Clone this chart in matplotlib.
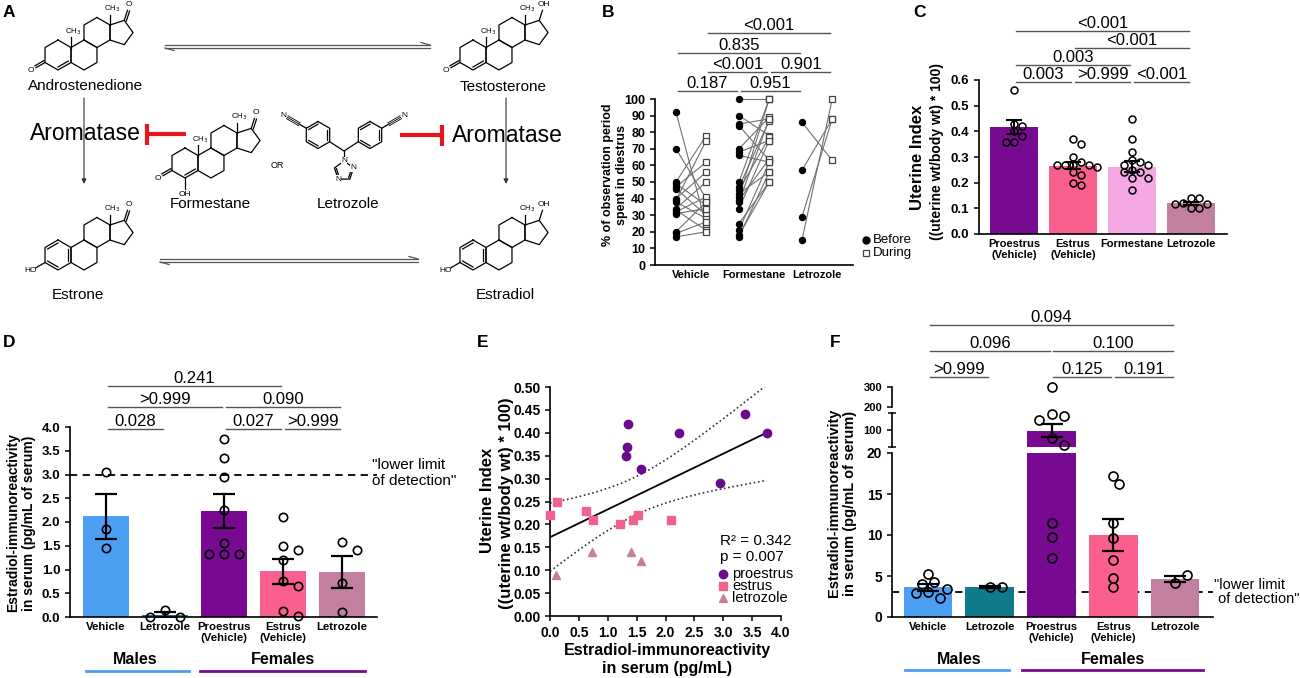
import numpy as np
import matplotlib
matplotlib.use("Agg")
import matplotlib.pyplot as plt
from matplotlib.ticker import FormatStrFormatter
from matplotlib.transforms import blended_transform_factory

plt.rcParams['font.family'] = ['Liberation Sans', 'DejaVu Sans']

W, H = 1300, 678

PURPLE = '#770A90'
PINK = '#FB5F8D'
LPINK = '#F4A9E5'
MAUVE = '#C27F9F'
BLUE = '#4C9FF2'
TEAL = '#0E7B8B'

# ---------------- data ----------------
# B: % of observation period spent in diestrus (paired before / during)
b_labels = ['Vehicle', 'Formestane', 'Letrozole']
veh_before = [92, 70, 50, 49, 47, 46, 40, 39, 38, 34, 33, 32, 31, 20, 19, 17]
veh_during = [24, 40, 78, 36, 62, 30, 56, 75, 28, 50, 21, 41, 34, 38, 26, 20]
form_before = [100, 90, 85, 84, 70, 68, 66, 50, 47, 45, 43, 41, 39, 38, 34, 25, 21, 18, 17]
form_during = [100, 78, 88, 63, 89, 75, 62, 100, 87, 77, 56, 100, 64, 88, 75, 50, 62, 50, 56]
let_before = [86, 57, 29, 15]
let_during = [63, 88, 88, 100]

# C: uterine index
c_labels = ['Proestrus\n(Vehicle)', 'Estrus\n(Vehicle)', 'Formestane', 'Letrozole']
c_mean = [0.417, 0.266, 0.262, 0.119]
c_sem = [0.028, 0.013, 0.022, 0.007]
c_pro = [0.56, 0.43, 0.42, 0.40, 0.38, 0.36, 0.36]
c_est = [0.37, 0.35, 0.30, 0.28, 0.27, 0.27, 0.27, 0.27, 0.26, 0.24, 0.23, 0.20, 0.19]
c_form = [0.45, 0.37, 0.32, 0.29, 0.28, 0.27, 0.27, 0.25, 0.24, 0.24, 0.22, 0.22, 0.17]
c_let = [0.14, 0.14, 0.12, 0.115, 0.115, 0.10, 0.10]

# D: estradiol (pg/mL), groups shared with F
d_labels = ['Vehicle', 'Letrozole', 'Proestrus\n(Vehicle)', 'Estrus\n(Vehicle)', 'Letrozole']
d_mean = [2.12, 0.05, 2.23, 0.96, 0.95]
d_sem = [0.47, 0.05, 0.35, 0.26, 0.34]
d_veh = [3.05, 1.85, 1.45]
d_mlet = [0.15, 0.0, 0.0]
d_pro = [3.75, 3.35, 2.95, 2.25, 1.55, 1.33, 1.33, 1.33]
d_est = [2.10, 1.50, 1.42, 1.20, 0.75, 0.65, 0.12, 0.02]
d_flet = [1.57, 1.42, 0.72, 0.10]

# E: uterine index vs estradiol
e_pro_x = [1.35, 1.33, 1.32, 1.58, 2.23, 2.95, 3.37, 3.75]
e_pro_y = [0.42, 0.37, 0.35, 0.32, 0.40, 0.29, 0.44, 0.40]
e_est_x = [0.00, 0.12, 0.62, 0.75, 1.22, 1.43, 1.52, 2.10]
e_est_y = [0.22, 0.25, 0.23, 0.21, 0.20, 0.21, 0.22, 0.21]
e_let_x = [0.10, 0.72, 1.40, 1.58]
e_let_y = [0.09, 0.14, 0.14, 0.12]

# F: estradiol (pg/mL), second assay
f_mean = [3.6, 3.65, 97, 10.0, 4.65]
f_sem = [0.38, 0.1, 30, 2.0, 0.35]
f_veh = [5.3, 4.3, 4.0, 3.4, 3.0, 2.9, 2.3]
f_mlet = [3.6, 3.7]
f_pro = [300, 175, 166, 147, 62, 29, 11.5, 9.8, 7.2]
f_est = [17.2, 16.2, 11.5, 9.6, 7.0, 4.8, 3.7]
f_flet = [4.2, 5.1]

# ---------------- helpers ----------------
fig = plt.figure(figsize=(13, 6.78), dpi=100)
ov = fig.add_axes([0, 0, 1, 1])
ov.set_xlim(0, W)
ov.set_ylim(H, 0)
ov.set_autoscale_on(False)
ov.axis('off')
ov.set_zorder(10)


def px_ax(x0, y0, x1, y1):
    return fig.add_axes([x0 / W, 1 - y1 / H, (x1 - x0) / W, (y1 - y0) / H])


def style(ax, fs=9):
    for s in ('top', 'right'):
        ax.spines[s].set_visible(False)
    for s in ('left', 'bottom'):
        ax.spines[s].set_linewidth(1.2)
    ax.tick_params(length=3.5, width=1.1, labelsize=fs)
    for t in ax.get_xticklabels() + ax.get_yticklabels():
        t.set_fontweight('bold')


def sig(ax, x1, x2, ypx, label, gap=0.03):
    tr = blended_transform_factory(ax.transData, ov.transData)
    ov.plot([x1 + gap, x2 - gap], [ypx, ypx], color='#555555', lw=1.0,
            transform=tr, clip_on=False)
    ov.text((x1 + x2) / 2, ypx - 3, label, transform=tr, ha='center',
            va='baseline', fontsize=12)


def swarm(vals, dx, dy):
    placed, offs = [], []
    for v in vals:
        k = 0
        while True:
            o = ((k + 1) // 2) * (1 if k % 2 else -1) * dx / 2
            if all(((o - po) / dx) ** 2 + ((v - pv) / dy) ** 2 >= 0.999
                   for po, pv in placed):
                break
            k += 1
        placed.append((o, v))
        offs.append(o)
    return np.array(offs)


def group_lines(ax, ypx_text, ypx_line, m_range, f_range):
    tr = blended_transform_factory(ax.transData, ov.transData)
    ov.plot(m_range, [ypx_line] * 2, color=BLUE, lw=2, transform=tr, clip_on=False)
    ov.plot(f_range, [ypx_line] * 2, color=PURPLE, lw=2, transform=tr, clip_on=False)
    ov.text(0.5, ypx_text, 'Males', transform=tr, ha='center', va='center',
            fontsize=11.5, fontweight='bold')
    ov.text(3.0, ypx_text, 'Females', transform=tr, ha='center', va='center',
            fontsize=11.5, fontweight='bold')


# ---------------- panel A (schematic) ----------------
def ring(p, lw=0.9):
    ov.plot(list(p[:, 0]) + [p[0, 0]], list(p[:, 1]) + [p[0, 1]], color='k', lw=lw)


def inner(p, q, c, f=0.2):
    a = p + (c - p) * f
    b = q + (c - q) * f
    ov.plot([a[0], b[0]], [a[1], b[1]], color='k', lw=0.9)


def hexagon(cx, cy, s, start=90):
    a = np.deg2rad(start + 60 * np.arange(6))
    return np.column_stack([cx + s * np.cos(a), cy - s * np.sin(a)])


def substituent(p, d, s, label, double=False, ha='center'):
    end = p + d * 0.7 * s
    ov.plot([p[0], end[0]], [p[1], end[1]], color='k', lw=0.9)
    if double:
        n = np.array([-d[1], d[0]]) * 2.2
        ov.plot([p[0] + n[0], end[0] + n[0]], [p[1] + n[1], end[1] + n[1]], color='k', lw=0.9)
    t = end + d * 0.4 * s
    ov.text(t[0], t[1], label, fontsize=6, ha=ha, va='center')


def steroid(x0, y0, s, c3, c17, arom=False, c4oh=False):
    r3 = np.sqrt(3)
    A = hexagon(x0, y0, s)
    B = hexagon(x0 + r3 * s, y0, s)
    C = hexagon(x0 + 1.5 * r3 * s, y0 - 1.5 * s, s)
    ex, ey = C[5, 0], C[5, 1] + s / 2
    pc = ex + s / (2 * np.tan(np.pi / 5))
    R = s / (2 * np.sin(np.pi / 5))
    a = np.deg2rad([144, 72, 0, -72, -144])
    D = np.column_stack([pc + R * np.cos(a), ey - R * np.sin(a)])
    for r in (A, B, C, D):
        ring(r)
    cA = A.mean(axis=0)
    if arom:
        for i, j in [(0, 1), (2, 3), (4, 5)]:
            inner(A[i], A[j], cA)
    else:
        inner(A[3], A[4], cA)
        p = A[5]
        ov.plot([p[0], p[0]], [p[1], p[1] - 0.7 * s], color='k', lw=0.9)
        ov.text(p[0] + 2, p[1] - 0.7 * s, 'CH$_3$', fontsize=5.5, ha='center', va='bottom')
    p = C[5]
    ov.plot([p[0], p[0]], [p[1], p[1] - 0.7 * s], color='k', lw=0.9)
    ov.text(p[0] + 2, p[1] - 0.7 * s, 'CH$_3$', fontsize=5.5, ha='center', va='bottom')
    d17 = D[1] - np.array([pc, ey])
    d17 /= np.linalg.norm(d17)
    substituent(D[1], d17, s, c17, double=(c17 == 'O'))
    d3 = (A[2] - cA) / s
    substituent(A[2], d3, s, c3, double=(c3 == 'O'))
    if c4oh:
        substituent(A[3], np.array([0.0, 1.0]), s, 'OH')


steroid(58, 55, 15, 'O', 'O')
steroid(473, 55, 15, 'O', 'OH')
steroid(58, 255, 15, 'HO', 'O', arom=True)
steroid(473, 255, 15, 'HO', 'OH', arom=True)
steroid(185, 163, 15, 'O', 'O', c4oh=True)

# letrozole
L1 = hexagon(318, 135, 13.5)
L2 = hexagon(370, 135, 13.5)
for Lr in (L1, L2):
    ring(Lr)
    cL = Lr.mean(axis=0)
    for i, j in [(0, 1), (2, 3), (4, 5)]:
        inner(Lr[i], Lr[j], cL)
for p, d in [(L1[1], np.array([-0.866, -0.5])), (L2[5], np.array([0.866, -0.5]))]:
    end = p + d * 22
    n = np.array([-d[1], d[0]]) * 1.6
    for k in (-1, 0, 1):
        ov.plot([p[0] + d[0] * 8 + k * n[0], end[0] + k * n[0]],
                [p[1] + d[1] * 8 + k * n[1], end[1] + k * n[1]], color='k', lw=0.6)
    ov.plot([p[0], p[0] + d[0] * 8], [p[1], p[1] + d[1] * 8], color='k', lw=0.9)
    t = end + d * 4
    ov.text(t[0], t[1], 'N', fontsize=6, ha='center', va='center')
cc = np.array([344.0, 151.0])
ov.plot([L1[4, 0], cc[0], L2[2, 0]], [L1[4, 1], cc[1], L2[2, 1]], color='k', lw=0.9)
Rt = 10
ta = np.deg2rad([90, 162, 234, 306, 18])
T = np.column_stack([344 + Rt * np.cos(ta), 161 + Rt - Rt * np.sin(ta)])
ring(T)
inner(T[1], T[2], T.mean(axis=0))
inner(T[3], T[4], T.mean(axis=0))
ov.plot([cc[0], T[0, 0]], [cc[1], T[0, 1]], color='k', lw=0.9)
for i in (0, 2, 4):
    ov.text(T[i, 0], T[i, 1], 'N', fontsize=6, ha='center', va='center',
            bbox=dict(facecolor='white', edgecolor='none', pad=0.2))

# reaction arrows
for y, xa, xb in [(45, 165, 430), (259, 160, 418)]:
    ov.plot([xa, xb], [y, y], color='#555555', lw=0.9)
    ov.plot([xb, xb - 9], [y, y - 2.5], color='#555555', lw=0.9)
    ov.plot([xa, xb], [y + 3, y + 3], color='#555555', lw=0.9)
    ov.plot([xa, xa + 9], [y + 3, y + 5.5], color='#555555', lw=0.9)
for x in (84, 506):
    ov.annotate('', xy=(x, 184), xytext=(x, 98),
                arrowprops=dict(arrowstyle='-|>', color='#333333', lw=0.8,
                                mutation_scale=7, shrinkA=0, shrinkB=0))

ov.text(85, 133, 'Aromatase', fontsize=16.5, ha='center', va='center')
ov.text(452, 135, 'Aromatase', fontsize=16.5, ha='left', va='center')
RED = '#E8141C'
ov.plot([186, 147], [134, 134], color=RED, lw=3, solid_capstyle='butt')
ov.plot([147, 147], [124, 145], color=RED, lw=3, solid_capstyle='butt')
ov.plot([400, 442], [135, 135], color=RED, lw=3, solid_capstyle='butt')
ov.plot([442, 442], [125, 146], color=RED, lw=3, solid_capstyle='butt')

ov.text(86, 86, 'Androstenedione', fontsize=11, ha='center', va='center')
ov.text(503, 87, 'Testosterone', fontsize=11, ha='center', va='center')
ov.text(78, 295, 'Estrone', fontsize=11, ha='center', va='center')
ov.text(505, 295, 'Estradiol', fontsize=11, ha='center', va='center')
ov.text(210, 204, 'Formestane', fontsize=11, ha='center', va='center')
ov.text(348, 204, 'Letrozole', fontsize=11, ha='center', va='center')
ov.text(277, 165, 'OR', fontsize=6.5, ha='center', va='center')

# panel letters
for lbl, x, y in [('A', 3, 17), ('B', 602, 17), ('C', 913, 17),
                  ('D', 3, 347), ('E', 477, 347), ('F', 830, 347)]:
    ov.text(x, y, lbl, fontsize=12.5, fontweight='bold', ha='left', va='baseline')

# ---------------- panel B ----------------
axB = px_ax(655, 99, 853, 265)
pairs = [(veh_before, veh_during), (form_before, form_during), (let_before, let_during)]
for g, (bef, dur) in enumerate(pairs):
    for b, d in zip(bef, dur):
        axB.plot([g, g + 0.48], [b, d], color='#707070', lw=0.8, zorder=1, clip_on=False)
    axB.plot([g] * len(bef), bef, 'o', color='black', ms=4.3, zorder=3, clip_on=False)
    axB.plot([g + 0.48] * len(dur), dur, 's', mfc='white', mec='#444444', mew=0.9,
             ms=4.6, zorder=3, clip_on=False)
axB.set_xlim(-0.333, 2.81)
axB.set_ylim(0, 100)
axB.set_yticks(range(0, 101, 10))
axB.set_xticks([0.24, 1.24, 2.24])
axB.set_xticklabels(b_labels)
style(axB, 9)
axB.tick_params(axis='x', length=0, labelsize=8)
ov.text(615, 175, '% of observation period\nspent in diestrus', rotation=90,
        ha='center', va='center', fontsize=9, fontweight='bold', linespacing=1.15)
ov.plot([866], [240], 'o', color='black', ms=5)
ov.text(873, 240, 'Before', fontsize=9.5, va='center')
ov.plot([866], [253], 's', mfc='white', mec='#444444', mew=0.9, ms=5)
ov.text(873, 253, 'During', fontsize=9.5, va='center')
sig(axB, 0, 1, 91, '0.187')
sig(axB, 1, 2, 91, '0.951')
sig(axB, 0.48, 1.48, 72, '<0.001')
sig(axB, 1.48, 2.48, 72, '0.901')
sig(axB, 0, 2, 53, '0.835')
sig(axB, 0.48, 2.48, 33, '<0.001')

# ---------------- panel C ----------------
axC = px_ax(979, 80, 1227, 234)
xs = np.arange(4)
axC.bar(xs, c_mean, width=0.81, color=[PURPLE, PINK, LPINK, MAUVE], zorder=1, lw=0)
axC.errorbar(xs, c_mean, yerr=c_sem, fmt='none', ecolor='black', elinewidth=1.5,
             capsize=6, capthick=1.5, zorder=3)
for i, pts in enumerate([c_pro, c_est, c_form, c_let]):
    o = swarm(np.array(pts) * 256.7, 0.135, 7.5)
    axC.plot(i + o, pts, 'o', mfc='none', mec='black', mew=1.1, ms=5, zorder=4, clip_on=False)
axC.set_xlim(-0.593, 3.61)
axC.set_ylim(0, 0.6)
axC.set_yticks(np.arange(0, 0.61, 0.1))
axC.yaxis.set_major_formatter(FormatStrFormatter('%.1f'))
axC.set_xticks(xs)
axC.set_xticklabels(c_labels)
style(axC, 9.5)
axC.tick_params(axis='x', length=0, labelsize=8)
ov.text(918, 157, 'Uterine Index', rotation=90, ha='center', va='center',
        fontsize=12, fontweight='bold')
ov.text(937, 152, '((uterine wt/body wt) * 100)', rotation=90, ha='center',
        va='center', fontsize=10, fontweight='bold')
sig(axC, 0, 1, 82, '0.003')
sig(axC, 1, 2, 82, '>0.999')
sig(axC, 2, 3, 82, '<0.001')
sig(axC, 0, 2, 65, '0.003')
sig(axC, 1, 3, 48, '<0.001')
sig(axC, 0, 3, 31, '<0.001')

# ---------------- panel D ----------------
axD = px_ax(70, 427, 377, 617)
xs = np.arange(5)
axD.bar(xs, d_mean, width=0.78, color=[BLUE, TEAL, PURPLE, PINK, MAUVE], zorder=1, lw=0)
axD.errorbar(xs, d_mean, yerr=d_sem, fmt='none', ecolor='black', elinewidth=1.6,
             capsize=8, capthick=1.6, zorder=3)
for i, pts in enumerate([d_veh, d_mlet, d_pro, d_est, d_flet]):
    o = swarm(np.array(pts) * 47.6, 0.25, 8.5)
    axD.plot(i + o, pts, 'o', mfc='none', mec='black', mew=1.2, ms=6, zorder=4, clip_on=False)
axD.axhline(3.0, color='black', lw=1.3, dashes=(4, 3), zorder=2, clip_on=False)
axD.set_xlim(-0.61, 4.59)
axD.set_ylim(0, 4)
axD.set_yticks(np.arange(0, 4.01, 0.5))
axD.yaxis.set_major_formatter(FormatStrFormatter('%.1f'))
axD.set_xticks(xs)
axD.set_xticklabels(d_labels)
style(axD, 9.5)
axD.tick_params(axis='x', length=0, labelsize=8.2)
ov.text(21, 523, 'Estradiol-immunoreactivity\nin serum (pg/mL of serum)', rotation=90,
        ha='center', va='center', fontsize=10, fontweight='bold', linespacing=1.15)
ov.text(372, 473, '"lower limit\nof detection"', fontsize=11, ha='left', va='center',
        linespacing=1.25)
group_lines(axD, 660, 671, [-0.34, 1.41], [1.59, 4.39])
sig(axD, 0, 1, 429, '0.028')
sig(axD, 2, 3, 429, '0.027')
sig(axD, 3, 4, 429, '>0.999')
sig(axD, 0, 2, 407, '>0.999')
sig(axD, 2, 4, 407, '0.090')
sig(axD, 0, 3, 386, '0.241')

# ---------------- panel E ----------------
axE = px_ax(550, 387, 781, 616)
ex_all = np.array(e_pro_x + e_est_x + e_let_x)
ey_all = np.array(e_pro_y + e_est_y + e_let_y)
slope, icpt = np.polyfit(ex_all, ey_all, 1)
n = len(ex_all)
resid = ey_all - (slope * ex_all + icpt)
s_err = np.sqrt(np.sum(resid ** 2) / (n - 2))
xx = np.linspace(0, ex_all.max(), 200)
band = 2.101 * s_err * np.sqrt(1 / n + (xx - ex_all.mean()) ** 2 /
                              np.sum((ex_all - ex_all.mean()) ** 2))
fit = slope * xx + icpt
axE.plot(xx, fit, color='black', lw=1.3, zorder=2)
axE.plot(xx, fit + band, color='#333333', lw=1.2, ls=(0, (1, 1.6)), zorder=2)
axE.plot(xx, fit - band, color='#333333', lw=1.2, ls=(0, (1, 1.6)), zorder=2)
E_PRO, E_EST, E_LET = '#6B0B8C', '#F2618E', '#C47F9E'
axE.plot(e_pro_x, e_pro_y, 'o', color=E_PRO, ms=6, zorder=3, clip_on=False)
axE.plot(e_est_x, e_est_y, 's', color=E_EST, ms=5.5, zorder=3, clip_on=False)
axE.plot(e_let_x, e_let_y, '^', color=E_LET, ms=6, zorder=3, clip_on=False)
axE.set_xlim(0, 4)
axE.set_ylim(0, 0.5)
axE.set_xticks(np.arange(0, 4.01, 0.5))
axE.set_yticks(np.arange(0, 0.501, 0.05))
axE.xaxis.set_major_formatter(FormatStrFormatter('%.1f'))
axE.yaxis.set_major_formatter(FormatStrFormatter('%.2f'))
style(axE, 10)
ov.text(488, 500, 'Uterine Index', rotation=90, ha='center', va='center',
        fontsize=12, fontweight='bold')
ov.text(506, 503, '((uterine wt/body wt) * 100)', rotation=90, ha='center',
        va='center', fontsize=12, fontweight='bold')
ov.text(667, 660, 'Estradiol-immunoreactivity\nin serum (pg/mL)', ha='center',
        va='center', fontsize=11.5, fontweight='bold', linespacing=1.25)
ov.text(720, 541, 'R² = 0.342', fontsize=11, va='center')
ov.text(720, 557, 'p = 0.007', fontsize=11, va='center')
for y, mk, col, ms, lab in [(574, 'o', E_PRO, 6, 'proestrus'),
                            (586, 's', E_EST, 5.5, 'estrus'),
                            (598, '^', E_LET, 6, 'letrozole')]:
    ov.plot([723], [y], mk, color=col, ms=ms)
    ov.text(732, y, lab, fontsize=10.5, va='center')

# ---------------- panel F (broken axis) ----------------
axF = px_ax(892, 453, 1213, 617)
axF2 = px_ax(892, 413, 1213, 447)
axF3 = px_ax(892, 387, 1213, 407)
f_colors = [BLUE, TEAL, PURPLE, PINK, MAUVE]
f_groups = [f_veh, f_mlet, f_pro, f_est, f_flet]


def f_px(v):
    v = np.asarray(v, float)
    return np.where(v <= 20, v * 164 / 20,
                    np.where(v <= 190, 170 + (v - 20) * 34 / 160, 210 + (v - 200) * 0.2))


f_offs = [swarm(f_px(pts), 0.2, 9) for pts in f_groups]
xs = np.arange(5)
for ax_, lo, hi in [(axF, 0, 20), (axF2, 20, 180), (axF3, 200, 300)]:
    for i in range(5):
        if f_mean[i] > lo:
            ax_.bar(i, min(f_mean[i], hi) - lo, bottom=lo, width=0.79,
                    color=f_colors[i], zorder=2, lw=0)
        top_e = f_mean[i] + f_sem[i]
        if top_e > lo and f_mean[i] - f_sem[i] < hi:
            ax_.errorbar(i, f_mean[i], yerr=f_sem[i], fmt='none', ecolor='black',
                         elinewidth=1.6, capsize=8, capthick=1.6, zorder=3)
    for i, pts in enumerate(f_groups):
        pts = np.array(pts)
        keep = (pts >= lo) & (pts <= hi)
        ax_.plot(i + f_offs[i][keep], pts[keep], 'o', mfc='none', mec='black', mew=1.2,
                 ms=6.5, zorder=4, clip_on=False)
    ax_.set_xlim(-0.583, 4.615)
    ax_.set_ylim(lo, hi)
    for s in ('top', 'right'):
        ax_.spines[s].set_visible(False)
    ax_.spines['left'].set_linewidth(1.2)
    ax_.spines['bottom'].set_linewidth(1.2)
    ax_.patch.set_visible(False)

axF.axhline(3.0, color='black', lw=1.3, dashes=(4, 3), zorder=1, clip_on=False)
axF.set_yticks([0, 5, 10, 15, 20])
axF.set_xticks(xs)
axF.set_xticklabels(d_labels)
style(axF, 10)
axF.tick_params(axis='x', length=0, labelsize=8)
for ax_, ticks in [(axF2, [100]), (axF3, [200, 300])]:
    ax_.spines['bottom'].set_visible(False)
    ax_.set_xticks([])
    ax_.set_yticks(ticks)
    style(ax_, 8)
axF2.set_yticks([20, 180], minor=True)
axF2.tick_params(axis='y', which='minor', length=6, width=1.1, direction='inout')
ov.text(842, 503, 'Estradiol-immunoreactivity\nin serum (pg/mL of serum)', rotation=90,
        ha='center', va='center', fontsize=10.5, fontweight='bold', linespacing=1.15)
ov.text(1214, 592, '"lower limit\n of detection"', fontsize=10.5, ha='left', va='center',
        linespacing=1.0)
group_lines(axF, 659, 670, [-0.37, 1.31], [1.52, 4.45])
sig(axF, 0, 1, 377, '>0.999')
sig(axF, 2, 3, 377, '0.125')
sig(axF, 3, 4, 377, '0.191')
sig(axF, 0, 2, 351, '0.096')
sig(axF, 2, 4, 351, '0.100')
sig(axF, 0, 4, 325, '0.094')

fig.savefig('out.png', dpi=100)
